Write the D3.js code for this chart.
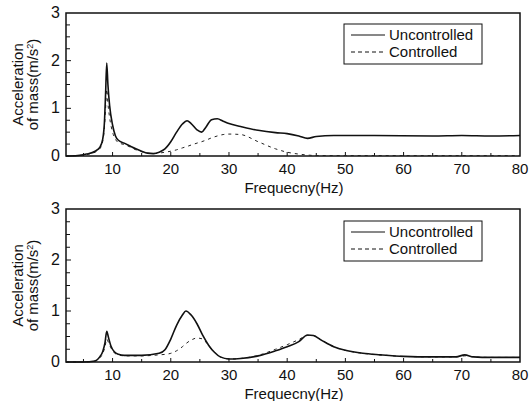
<!DOCTYPE html>
<html>
<head>
<meta charset="utf-8">
<script src="https://cdn.jsdelivr.net/npm/d3@7"></script>
<style>
  body { margin: 0; background: #fff; }
  text { font-family: "Liberation Sans", Arial, sans-serif; fill: #111; }
</style>
</head>
<body>
<svg id="chart" width="532" height="401"></svg>
<script>
// frequency grids (Hz) and acceleration (m/s^2)
var topFreq = [2, 4, 5.5, 7, 7.8, 8.3, 8.6, 8.8, 9.0, 9.2, 9.5, 10, 10.5, 11, 12, 13, 14, 15, 16, 17, 18, 19, 20, 21, 22, 22.8, 23.5, 24.5, 25.3, 26, 27, 28, 29, 30, 32, 35, 38, 40, 42, 43.5, 45, 48, 55, 65, 70, 75, 80];
var topUnc  = [0, 0.01, 0.04, 0.1, 0.18, 0.35, 0.7, 1.3, 1.95, 1.5, 1.05, 0.65, 0.42, 0.33, 0.27, 0.21, 0.15, 0.1, 0.06, 0.05, 0.08, 0.15, 0.3, 0.5, 0.67, 0.74, 0.68, 0.55, 0.5, 0.6, 0.76, 0.78, 0.73, 0.68, 0.62, 0.54, 0.49, 0.47, 0.42, 0.37, 0.41, 0.43, 0.43, 0.42, 0.43, 0.42, 0.43];
var topCtl  = [0, 0.01, 0.03, 0.08, 0.15, 0.3, 0.6, 1.0, 1.4, 1.1, 0.8, 0.5, 0.35, 0.28, 0.24, 0.19, 0.13, 0.09, 0.06, 0.05, 0.06, 0.08, 0.1, 0.13, 0.17, 0.2, 0.23, 0.27, 0.3, 0.33, 0.38, 0.42, 0.45, 0.46, 0.45, 0.3, 0.15, 0.08, 0.04, 0.02, 0.01, 0.01, 0.01, 0.01, 0.01, 0.01, 0.01];

var botFreq = [2, 5, 7, 7.8, 8.3, 8.7, 9.0, 9.3, 9.7, 10.3, 11, 12, 15, 18, 19, 20, 21, 22, 22.6, 23.5, 24.5, 25.5, 26.5, 27.5, 28.5, 30, 32, 35, 38, 40, 42, 43.5, 44.5, 46, 48, 50, 53, 56, 60, 65, 69, 70.5, 72, 75, 80];
var botUnc  = [0, 0, 0.02, 0.1, 0.2, 0.38, 0.6, 0.48, 0.32, 0.2, 0.15, 0.13, 0.13, 0.17, 0.24, 0.45, 0.72, 0.92, 1.0, 0.92, 0.75, 0.52, 0.33, 0.19, 0.1, 0.06, 0.07, 0.12, 0.22, 0.3, 0.4, 0.53, 0.52, 0.42, 0.3, 0.23, 0.17, 0.14, 0.11, 0.1, 0.1, 0.14, 0.1, 0.09, 0.09];
var botCtl  = [0, 0, 0.02, 0.08, 0.16, 0.3, 0.45, 0.38, 0.28, 0.18, 0.14, 0.12, 0.12, 0.14, 0.15, 0.17, 0.22, 0.3, 0.36, 0.43, 0.47, 0.45, 0.32, 0.19, 0.1, 0.06, 0.07, 0.13, 0.25, 0.34, 0.44, 0.52, 0.52, 0.42, 0.3, 0.23, 0.17, 0.14, 0.11, 0.1, 0.1, 0.12, 0.1, 0.09, 0.09];

var xTicks = [10, 20, 30, 40, 50, 60, 70, 80];
var yTicks = [0, 1, 2, 3];
var legendNames = ["Uncontrolled", "Controlled"];

var svg = d3.select("#chart");

function drawPanel(top, bottom, freq, unc, ctl, legendY) {
    var x = d3.scaleLinear().domain([2, 80]).range([66, 520]);
    var y = d3.scaleLinear().domain([0, 3]).range([bottom, top]);
    var g = svg.append("g");

    // minor ticks every 5 Hz / 0.25 m/s^2, pointing inward
    g.selectAll(".xt").data(d3.range(5, 80, 5)).enter().append("line")
        .attr("x1", d => x(d)).attr("x2", d => x(d))
        .attr("y1", bottom).attr("y2", d => bottom - (d % 10 === 0 ? 4 : 3))
        .attr("stroke", "#111").attr("stroke-width", 1);
    g.selectAll(".yt").data(d3.range(0.25, 3, 0.25)).enter().append("line")
        .attr("x1", 66).attr("x2", d => 66 + (d % 1 === 0 ? 5 : 4))
        .attr("y1", d => y(d)).attr("y2", d => y(d))
        .attr("stroke", "#111").attr("stroke-width", 1);

    g.append("rect")
        .attr("x", 66).attr("y", top)
        .attr("width", 520 - 66).attr("height", bottom - top)
        .attr("fill", "none").attr("stroke", "#111").attr("stroke-width", 1.5);

    g.selectAll(".xl").data(xTicks).enter().append("text")
        .attr("x", d => x(d)).attr("y", bottom + 18)
        .attr("text-anchor", "middle").attr("font-size", 15)
        .text(d => d);
    g.selectAll(".yl").data(yTicks).enter().append("text")
        .attr("x", 60).attr("y", d => y(d) + 5)
        .attr("text-anchor", "end").attr("font-size", 16)
        .text(d => d);

    g.append("text")
        .attr("x", 294).attr("y", bottom + 37)
        .attr("text-anchor", "middle").attr("font-size", 15)
        .text("Frequecny(Hz)");

    var midY = (top + bottom) / 2;
    g.append("text")
        .attr("transform", "translate(23," + midY + ") rotate(-90)")
        .attr("text-anchor", "middle").attr("font-size", 15)
        .text("Acceleration");
    var yl = g.append("text")
        .attr("transform", "translate(38," + midY + ") rotate(-90)")
        .attr("text-anchor", "middle").attr("font-size", 15)
        .text("of mass(m/s");
    yl.append("tspan").attr("font-size", 9).attr("dy", -5).text("2");
    yl.append("tspan").attr("dy", 5).text(")");

    var line = d3.line()
        .x(d => x(d[0])).y(d => y(d[1]))
        .curve(d3.curveMonotoneX);

    g.append("path")
        .datum(d3.zip(freq, ctl))
        .attr("d", line)
        .attr("fill", "none").attr("stroke", "#222")
        .attr("stroke-width", 1).attr("stroke-dasharray", "3,4");
    g.append("path")
        .datum(d3.zip(freq, unc))
        .attr("d", line)
        .attr("fill", "none").attr("stroke", "#111")
        .attr("stroke-width", 1.6);

    // legend
    var lg = g.append("g");
    lg.append("rect")
        .attr("x", 344).attr("y", legendY)
        .attr("width", 138).attr("height", 40)
        .attr("fill", "#fff").attr("stroke", "#111").attr("stroke-width", 1);
    legendNames.forEach(function(name, i) {
        var ly = legendY + 11 + i * 17;
        lg.append("line")
            .attr("x1", 351).attr("x2", 385)
            .attr("y1", ly).attr("y2", ly)
            .attr("stroke", "#111").attr("stroke-width", 1)
            .attr("stroke-dasharray", i === 0 ? null : "4,3");
        lg.append("text")
            .attr("x", 389).attr("y", ly + 5)
            .attr("font-size", 15)
            .text(name);
    });
}

drawPanel(13, 156, topFreq, topUnc, topCtl, 24);
drawPanel(209, 362, botFreq, botUnc, botCtl, 221);
</script>
</body>
</html>
